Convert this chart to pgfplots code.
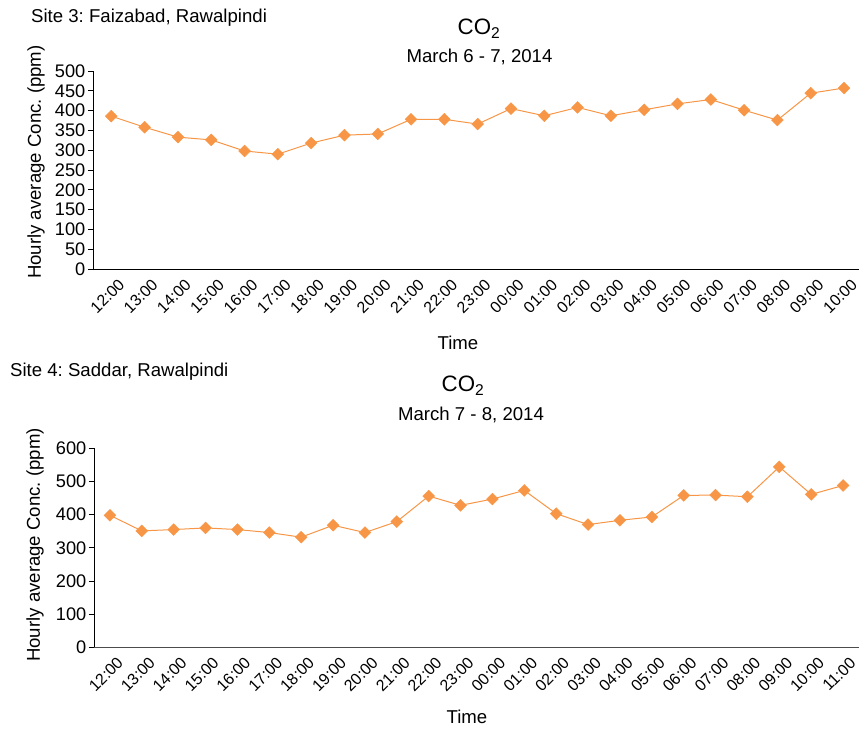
\documentclass[border=0pt]{standalone}
\usepackage{fontspec}
\setmainfont{Liberation Sans}
\usepackage{pgfplots}
\pgfplotsset{compat=1.18}
\definecolor{co2}{HTML}{F79646}
\frenchspacing
\pgfplotsset{
  co2axis/.style={
    scale only axis,
    anchor=south west,
    axis x line*=bottom,
    axis y line*=left,
    ymin=0,
    xtick=data,
    tick align=outside,
    major tick length=5pt,
    x tick style={draw=none},
    y tick style={black, line width=0.8pt},
    axis line style={black, line width=0.9pt},
    /pgf/number format/assume math mode=true,
    tick label style={font=\fontsize{18.2}{20}\selectfont},
    y tick label style={inner sep=2.5pt},
    x tick label style={anchor=center, xshift=-4pt, yshift=-22pt, rotate=45, inner sep=0pt, font=\fontsize{16}{17}\selectfont},
    ylabel={Hourly average Conc. (ppm)},
    ylabel style={font=\fontsize{18.6}{20}\selectfont, anchor=center},
    clip=false,
  },
  co2line/.style={color=co2, line width=1.0pt, mark=square*, mark size=4.2pt, mark options={rotate=45, fill=co2, draw=co2, line width=0.4pt}},
}
\pgfplotstableread{
i v
0 386
1 358
2 333
3 326
4 298
5 290
6 318
7 338
8 341
9 378
10 378
11 366
12 405
13 387
14 408
15 387
16 402
17 417
18 428
19 401
20 376
21 444
22 457
}\siteA
\pgfplotstableread{
i v
0 398
1 351
2 355
3 360
4 355
5 346
6 332
7 368
8 346
9 379
10 456
11 428
12 447
13 473
14 403
15 370
16 383
17 393
18 458
19 459
20 454
21 544
22 461
23 488
}\siteB
\begin{document}
\fontsize{18.6}{22}\selectfont
\begin{tikzpicture}
\useasboundingbox (0pt,0pt) rectangle (859pt,-729pt);
% ---------- Site 3 ----------
\node[anchor=base west, inner sep=0pt, font=\fontsize{18.6}{20}\selectfont] at (31pt,-22.7pt) {Site 3: Faizabad, Rawalpindi};
\node[anchor=base, inner sep=0pt, font=\fontsize{22.3}{24}\selectfont] at (479pt,-34.3pt) {CO\textsubscript{2}};
\node[anchor=base, inner sep=0pt, font=\fontsize{18.6}{20}\selectfont] at (479.5pt,-62.3pt) {March 6 - 7, 2014};
\node[anchor=base, inner sep=0pt, font=\fontsize{18.6}{20}\selectfont] at (458pt,-349.3pt) {Time};
\begin{axis}[co2axis,
  at={(93pt,-269pt)},
  width=766pt, height=198pt,
  xmin=-0.55, xmax=22.45,
  ymax=500, ytick={0,50,...,500},
  xticklabels={12:00,13:00,14:00,15:00,16:00,17:00,18:00,19:00,20:00,21:00,22:00,23:00,00:00,01:00,02:00,03:00,04:00,05:00,06:00,07:00,08:00,09:00,10:00},
  ylabel style={at={(axis description cs:-0.0744,0.54)}},
]
\addplot[co2line] table[x=i, y=v] {\siteA};
\end{axis}
% ---------- Site 4 ----------
\node[anchor=base west, inner sep=0pt, font=\fontsize{18.6}{20}\selectfont] at (10pt,-376pt) {Site 4: Saddar, Rawalpindi};
\node[anchor=base, inner sep=0pt, font=\fontsize{22.3}{24}\selectfont] at (463pt,-391.7pt) {CO\textsubscript{2}};
\node[anchor=base, inner sep=0pt, font=\fontsize{18.6}{20}\selectfont] at (471pt,-420pt) {March 7 - 8, 2014};
\node[anchor=base, inner sep=0pt, font=\fontsize{18.6}{20}\selectfont] at (467pt,-723pt) {Time};
\begin{axis}[co2axis,
  at={(94pt,-647.3pt)},
  width=765pt, height=199pt,
  xmin=-0.5, xmax=23.5,
  ymax=600, ytick={0,100,...,600},
  xticklabels={12:00,13:00,14:00,15:00,16:00,17:00,18:00,19:00,20:00,21:00,22:00,23:00,00:00,01:00,02:00,03:00,04:00,05:00,06:00,07:00,08:00,09:00,10:00,11:00},
  x axis line style={draw=black!70},
  ylabel style={at={(axis description cs:-0.0771,0.514)}},
]
\addplot[co2line] table[x=i, y=v] {\siteB};
\end{axis}
\end{tikzpicture}
\end{document}
